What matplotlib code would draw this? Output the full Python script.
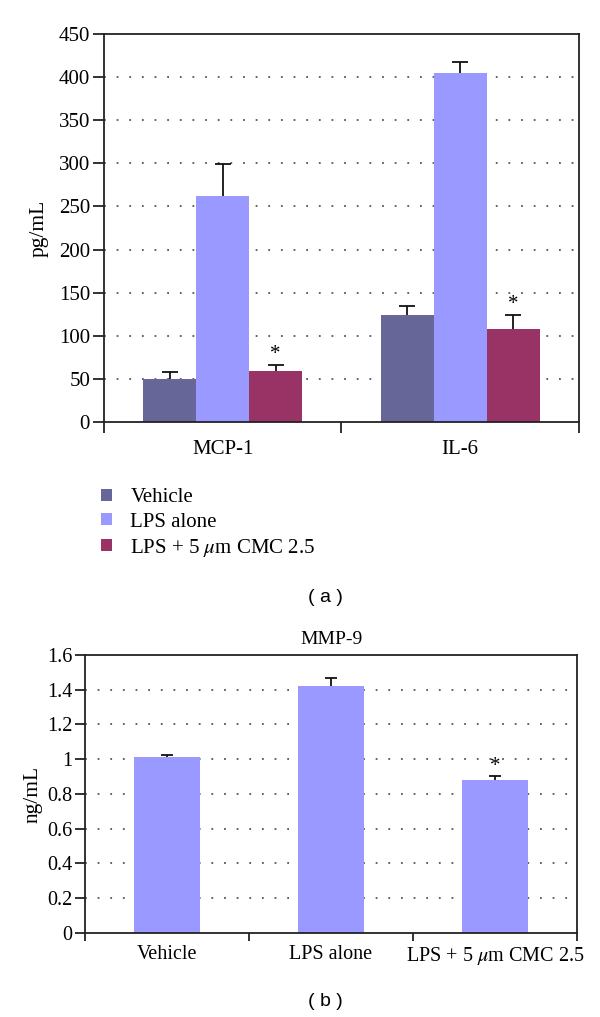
import matplotlib
matplotlib.use('Agg')
import matplotlib.pyplot as plt
from matplotlib.patches import Patch
import numpy as np

# Panel (a) data
cytokines = ['MCP-1', 'IL-6']
groups = ['Vehicle', 'LPS alone', 'LPS + 5 $\\mu$m CMC 2.5']
vehicle_vals = [49.4, 123.6]
vehicle_err = [8.0, 10.5]
lps_vals = [261.5, 404.8]
lps_err = [38.2, 13.0]
cmc_vals = [58.7, 107.8]
cmc_err = [7.0, 16.6]
top_yticks = [0, 50, 100, 150, 200, 250, 300, 350, 400, 450]

# Panel (b) data
mmp_labels = ['Vehicle', 'LPS alone', 'LPS + 5 $\\mu$m CMC 2.5']
mmp_vals = [1.01, 1.42, 0.88]
mmp_err = [0.012, 0.05, 0.022]
bottom_yticks = [0, 0.2, 0.4, 0.6, 0.8, 1.0, 1.2, 1.4, 1.6]
bottom_yticklabels = ['0', '0.2', '0.4', '0.6', '0.8', '1', '1.2', '1.4', '1.6']

colors = ['#666699', '#9999FF', '#993366']

plt.rcParams['font.family'] = ['Liberation Serif', 'DejaVu Serif']
plt.rcParams['mathtext.fontset'] = 'stix'

fig = plt.figure(figsize=(6, 10.17), dpi=100)

spine_color = '#222222'
grid_kw = dict(color='#555555', linestyle=(0, (1, 6)), linewidth=1.3, zorder=0)


def upper_errorbar(ax, pos, vals, errs, capsize):
    # only the upper half of the error bar, no cap at the bar top
    _, caps, _ = ax.errorbar(pos, vals, yerr=[np.zeros(len(vals)), errs], fmt='none',
                             ecolor='#111111', elinewidth=1.3, capsize=capsize,
                             capthick=1.3, zorder=3)
    caps[0].set_visible(False)


# ---------- Panel (a) ----------
ax1 = fig.add_axes([0.1733, 0.5851, 0.7917, 0.3815])
x = np.arange(len(cytokines))
w = 0.223
series = [(vehicle_vals, vehicle_err), (lps_vals, lps_err), (cmc_vals, cmc_err)]
for i, (vals, errs) in enumerate(series):
    pos = x + (i - 1) * w
    ax1.bar(pos, vals, width=w, color=colors[i], zorder=2)
    upper_errorbar(ax1, pos, vals, errs, 5.5)

for j in range(len(cytokines)):
    ax1.text(x[j] + w, cmc_vals[j] + cmc_err[j] + 1, '*', ha='center', va='bottom', fontsize=15)

for yv in top_yticks[1:-1]:
    ax1.axhline(yv, **grid_kw)

ax1.set_xlim(-0.5, len(cytokines) - 0.5)
ax1.set_ylim(0, 450)
ax1.set_yticks(top_yticks)
ax1.set_xticks(x)
ax1.set_xticklabels(cytokines)
ax1.set_xticks(np.arange(-0.5, len(cytokines), 1.0), minor=True)
ax1.tick_params(axis='x', which='major', length=0, pad=13, labelsize=15)
ax1.tick_params(axis='x', which='minor', length=8, width=1.3, color=spine_color)
ax1.tick_params(axis='y', length=8, width=1.3, color=spine_color, pad=2, labelsize=15)
ax1.set_ylabel('pg/mL', fontsize=15.5, labelpad=7)
for sp in ax1.spines.values():
    sp.set_color(spine_color)
    sp.set_linewidth(1.3)

# legend for panel (a)
handles = [Patch(facecolor=c, edgecolor='none') for c in colors]
fig.legend(handles, groups, loc='upper left', bbox_to_anchor=(0.155, 1 - 480 / 1017),
           frameon=False, fontsize=15, handlelength=0.5, handleheight=0.5,
           handletextpad=0.9, labelspacing=0.25, borderaxespad=0)

fig.text(0.542, 1 - 598 / 1017, '( a )', ha='center', va='center', fontsize=14,
         family=['Liberation Sans', 'DejaVu Sans'])

# ---------- Panel (b) ----------
ax2 = fig.add_axes([0.1417, 0.0826, 0.82, 0.2734])
xb = np.arange(len(mmp_labels))
ax2.bar(xb, mmp_vals, width=0.4, color=colors[1], zorder=2)
upper_errorbar(ax2, xb, mmp_vals, mmp_err, 4)
ax2.text(xb[2], mmp_vals[2] + mmp_err[2], '*', ha='center', va='bottom', fontsize=15)

for yv in bottom_yticks[1:-1]:
    ax2.axhline(yv, **grid_kw)

ax2.set_xlim(-0.5, len(mmp_labels) - 0.5)
ax2.set_ylim(0, 1.6)
ax2.set_yticks(bottom_yticks)
ax2.set_yticklabels(bottom_yticklabels)
ax2.set_xticks(xb)
ax2.set_xticklabels(mmp_labels)
ax2.set_xticks(np.arange(-0.5, len(mmp_labels), 1.0), minor=True)
ax2.tick_params(axis='x', which='major', length=0, pad=9, labelsize=14.5)
ax2.tick_params(axis='x', which='minor', length=6, width=1.3, color=spine_color)
ax2.tick_params(axis='y', length=7, width=1.3, color=spine_color, pad=2, labelsize=14.5)
ax2.set_ylabel('ng/mL', fontsize=15.5, labelpad=3)
ax2.set_title('MMP-9', fontsize=14, pad=8)
for sp in ax2.spines.values():
    sp.set_color(spine_color)
    sp.set_linewidth(1.3)

fig.text(0.542, 1 - 1001 / 1017, '( b )', ha='center', va='center', fontsize=14,
         family=['Liberation Sans', 'DejaVu Sans'])

plt.savefig('out.png', dpi=100, facecolor='white')
